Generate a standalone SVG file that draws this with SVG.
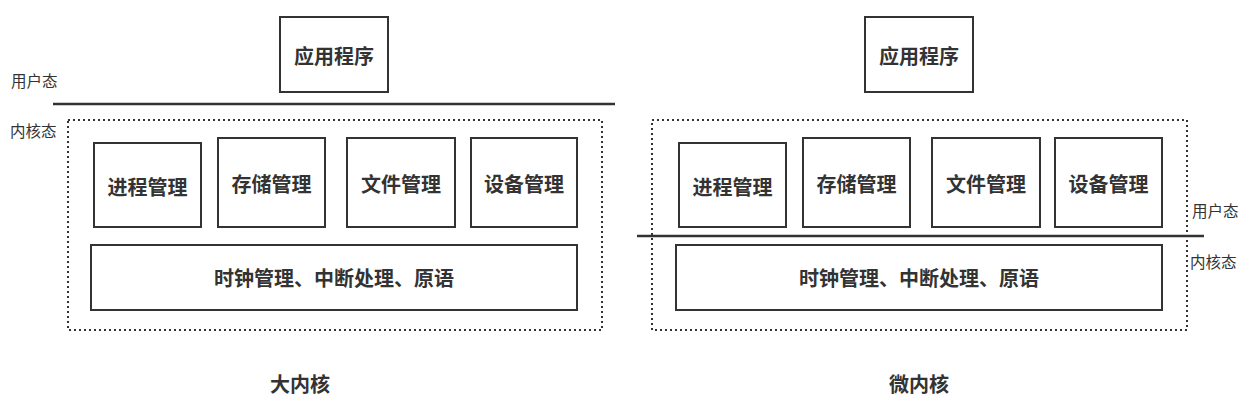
<svg xmlns="http://www.w3.org/2000/svg" width="1244" height="411" viewBox="0 0 1244 411">
<style>
.box{fill:#fff;stroke:#333;stroke-width:2}
.dot{fill:none;stroke:#333;stroke-width:2;stroke-dasharray:2 3}
.sep{stroke:#333;stroke-width:2.5}
.t{font-family:"Noto Sans CJK SC","Noto Sans",sans-serif;font-size:20px;font-weight:bold;fill:#333;text-anchor:middle;dominant-baseline:central}
.s{font-family:"Noto Sans CJK SC","Noto Sans",sans-serif;font-size:15.5px;fill:#333;dominant-baseline:central}
</style>
<rect width="1244" height="411" fill="#fff"/>
<g id="left">
  <g id="l-app"><rect class="box" x="280" y="17" width="108" height="75"/><text class="t" x="334" y="55">应用程序</text></g>
  <line class="sep" x1="53" y1="104" x2="615" y2="104"/>
  <text class="s" x="11" y="80">用户态</text>
  <text class="s" x="10" y="130">内核态</text>
  <rect class="dot" x="68" y="120" width="534" height="210"/>
  <g id="l-proc"><rect class="box" x="94" y="143" width="107" height="84"/><text class="t" x="147.5" y="186">进程管理</text></g>
  <g id="l-mem"><rect class="box" x="218" y="138" width="107" height="89"/><text class="t" x="271.5" y="183">存储管理</text></g>
  <g id="l-file"><rect class="box" x="347" y="138" width="108" height="89"/><text class="t" x="401" y="183">文件管理</text></g>
  <g id="l-dev"><rect class="box" x="471" y="138" width="106" height="89"/><text class="t" x="524" y="183">设备管理</text></g>
  <g id="l-core"><rect class="box" x="91" y="245" width="486" height="65"/><text class="t" x="334" y="277">时钟管理、中断处理、原语</text></g>
  <text class="t" x="300" y="383">大内核</text>
</g>
<g id="right">
  <g id="r-app"><rect class="box" x="865" y="17" width="108" height="75"/><text class="t" x="919" y="55">应用程序</text></g>
  <rect class="dot" x="652" y="120" width="535" height="210"/>
  <g id="r-proc"><rect class="box" x="679" y="143" width="107" height="84"/><text class="t" x="732.5" y="186">进程管理</text></g>
  <g id="r-mem"><rect class="box" x="803" y="138" width="107" height="89"/><text class="t" x="856.5" y="183">存储管理</text></g>
  <g id="r-file"><rect class="box" x="932" y="138" width="108" height="89"/><text class="t" x="986" y="183">文件管理</text></g>
  <g id="r-dev"><rect class="box" x="1055" y="138" width="107" height="89"/><text class="t" x="1108.5" y="183">设备管理</text></g>
  <line class="sep" x1="637" y1="236" x2="1204" y2="236"/>
  <g id="r-core"><rect class="box" x="676" y="245" width="486" height="65"/><text class="t" x="919" y="277">时钟管理、中断处理、原语</text></g>
  <text class="s" x="1192" y="210">用户态</text>
  <text class="s" x="1190" y="261">内核态</text>
  <text class="t" x="919" y="383">微内核</text>
</g>
</svg>
